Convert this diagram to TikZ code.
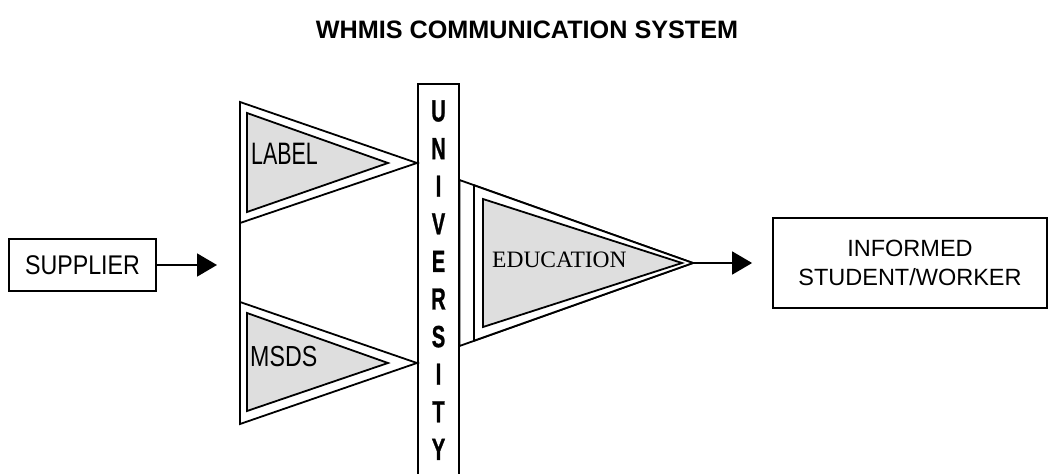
\documentclass[tikz,border=0pt]{standalone}
\usepackage{fontspec}
\setmainfont{Liberation Sans}
\newfontfamily\serifface{Liberation Serif}
\newfontface\columnface{Liberation Sans Bold}[FakeBold=1.2]
\usetikzlibrary{arrows.meta}
\begin{document}
\begin{tikzpicture}[x=1pt,y=-1pt,
  box/.style={draw, line width=1.8pt, inner sep=0pt},
  outertri/.style={draw, line width=1.8pt, fill=white, line join=miter},
  innertri/.style={draw, line width=1.8pt, fill=black!13, line join=miter},
  link/.style={line width=1.8pt},
  flow/.style={line width=1.8pt, -{Triangle[length=20pt,width=23pt]}},
  plain/.style={inner sep=0pt},
]
\useasboundingbox (0,0) rectangle (1053,474);
\clip (0,0) rectangle (1053,474);

% title
\node[plain, font=\bfseries\fontsize{25.2}{28}\selectfont] (title) at (527,30)
  {WHMIS COMMUNICATION SYSTEM};

% source and destination
\node[box, minimum width=147pt, minimum height=52pt] (supplier) at (82.5,265)
  {\fontsize{27}{30}\selectfont\scalebox{0.86}[1]{SUPPLIER}};
\node[box, minimum width=274pt, minimum height=90pt, align=center,
      font=\fontsize{23.5}{29}\selectfont] (informed) at (910,263)
  {INFORMED\\STUDENT/WORKER};

% university column
\node[box, minimum width=41pt, minimum height=402pt, anchor=north] (univ) at (438.5,83) {};
\foreach \l [count=\i from 0] in {U,N,I,V,E,R,S,I,T,Y}
  \node[plain, font=\columnface\fontsize{30.5}{32}\selectfont] (letter\i) at (438.5,{111+37.6*\i})
    {\scalebox{0.66}[1]{\l}};

% label pennant
\path[outertri] (240,102) -- (417,163) -- (240,223) -- cycle;
\path[innertri] (247,113) -- (388,163) -- (247,212) -- cycle;
\node[plain, anchor=west, font=\fontsize{31}{33}\selectfont] (label) at (251,153.5)
  {\scalebox{0.69}[1]{LABEL}};

% msds pennant
\path[outertri] (240,302) -- (417,363) -- (240,424) -- cycle;
\path[innertri] (247,313) -- (388,363) -- (247,411) -- cycle;
\node[plain, anchor=west, font=\fontsize{29}{31}\selectfont] (msds) at (250,357)
  {\scalebox{0.8}[1]{MSDS}};

% joint between the two pennants
\draw[link] (240,223) -- (240,302);

% education pennant
\coordinate (edutip) at (693,263);
\path[outertri] (459.5,180) -- (edutip) -- (459.5,346) -- cycle;
\path[outertri] (474,185.3) -- (edutip) -- (474,340.7) -- cycle;
\path[innertri] (483,199) -- (682,263) -- (483,327) -- cycle;
\node[plain, anchor=west, font=\serifface\fontsize{23.5}{26}\selectfont] (education) at (492,260)
  {EDUCATION};

% flow arrows
\coordinate (split) at (217,265);
\draw[flow] (supplier.east) -- (split);
\draw[flow, shorten >=20pt] (edutip) -- (informed.west);
\end{tikzpicture}
\end{document}
